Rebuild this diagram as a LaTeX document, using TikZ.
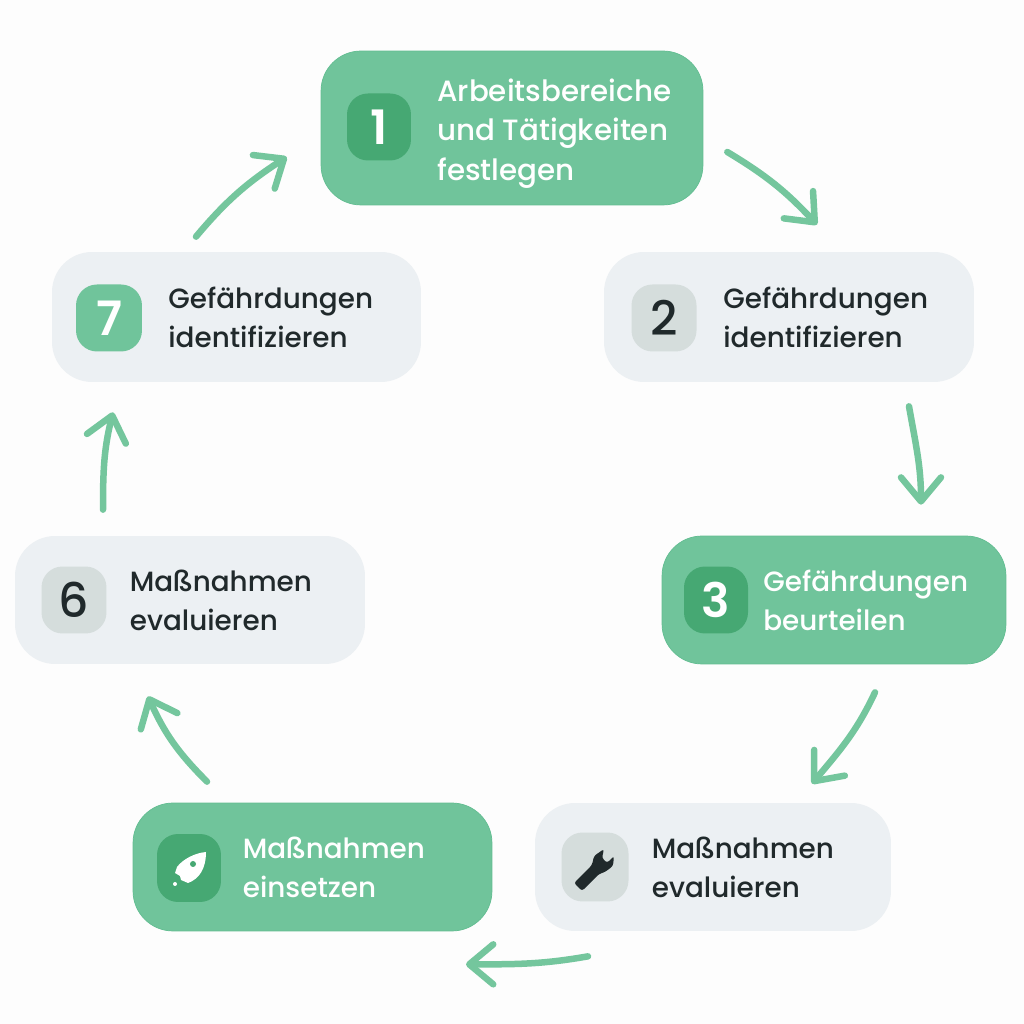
\documentclass[tikz,border=0pt]{standalone}
\usepackage{fontspec}
\setmainfont{Poppins Medium}[BoldFont={Poppins SemiBold}]
\usetikzlibrary{arrows.meta}
\definecolor{boxgreen}{HTML}{70C49B}
\definecolor{boxline}{HTML}{62BD91}
\definecolor{icongreen}{HTML}{46A873}
\definecolor{boxlight}{HTML}{ECF0F3}
\definecolor{iconlight}{HTML}{D5DDDC}
\definecolor{inkdark}{HTML}{20292B}
\definecolor{flowgreen}{HTML}{74C69D}
\definecolor{paper}{HTML}{FDFDFD}
\begin{document}
\begin{tikzpicture}[x=0.02cm,y=0.02cm,
	boxg/.style={rectangle,rounded corners=0.8cm,fill=boxgreen,draw=boxline,line width=0.4pt,inner sep=0pt},
	boxl/.style={rectangle,rounded corners=0.8cm,fill=boxlight,inner sep=0pt},
	icong/.style={rectangle,rounded corners=0.42cm,fill=icongreen,inner sep=0pt,minimum width=1.28cm,minimum height=1.34cm,text=white,font=\fontsize{27}{27}\selectfont\bfseries},
	iconl/.style={rectangle,rounded corners=0.42cm,fill=iconlight,inner sep=0pt,minimum width=1.3cm,minimum height=1.34cm,text=inkdark,font=\fontsize{27}{27}\selectfont},
	txt/.style={anchor=west,align=left,inner sep=0pt,font=\fontsize{15.85}{22.1}\selectfont},
	flow/.style={draw=flowgreen,line width=0.13cm,line cap=round,-{Straight Barb[length=0.48cm,width=0.8cm,round]}}]
	\useasboundingbox[fill=paper] (0,0) rectangle (1024,1024);
	% boxes
	\node[boxg,minimum width=7.64cm,minimum height=3.08cm] (box1) at (512,896) {};
	\node[boxl,minimum width=7.4cm,minimum height=2.6cm] (box2) at (789,707) {};
	\node[boxg,minimum width=6.88cm,minimum height=2.56cm] (box3) at (834,424) {};
	\node[boxl,minimum width=7.12cm,minimum height=2.56cm] (box4) at (713,157) {};
	\node[boxg,minimum width=7.18cm,minimum height=2.56cm] (box5) at (312.5,157) {};
	\node[boxl,minimum width=7cm,minimum height=2.56cm] (box6) at (190,424) {};
	\node[boxl,minimum width=7.38cm,minimum height=2.6cm] (box7) at (236.5,707) {};
	% icons
	\node[icong] (icon1) at (379,897) {1};
	\node[iconl] (icon2) at (664,706) {2};
	\node[icong] (icon3) at (716,424) {3};
	\node[iconl,minimum width=1.34cm,minimum height=1.38cm] (icon4) at (595,157) {};
	\node[icong,minimum height=1.36cm] (icon5) at (189,156) {};
	\node[iconl] (icon6) at (74,424) {6};
	\node[icong,fill=boxgreen,minimum width=1.32cm] (icon7) at (109,706) {7};
	% wrench
	\fill[inkdark,rounded corners=1.5pt] (604,175) -- (602,166) -- (607,161) -- (614,168) -- (613,158) -- (605,152) -- (599,150) -- (582,133) -- (574,141) -- (592,159) -- (594,168) -- cycle;
	% rocket
	\fill[white] (206,172) .. controls (195,171) and (183,165) .. (177,157) -- (175,151) -- (180,148) -- (181,144) -- (188,141) .. controls (199,145) and (206,155) .. (206,172) -- cycle;
	\fill[icongreen] (193,160) circle (3);
	\fill[white] (175,140) circle (2);
	% texts
	\node[txt,text=white,font=\fontsize{16.7}{22.4}\selectfont] (txt1) at (437,890.5) {Arbeitsbereiche\\und Tätigkeiten\\festlegen};
	\node[txt,text=inkdark] (txt2) at (723,707) {Gefährdungen\\identifizieren};
	\node[txt,text=white] (txt3) at (763,424) {Gefährdungen\\beurteilen};
	\node[txt,text=inkdark] (txt4) at (651.5,157) {Maßnahmen\\evaluieren};
	\node[txt,text=white] (txt5) at (242.5,157) {Maßnahmen\\einsetzen};
	\node[txt,text=inkdark] (txt6) at (129.5,424) {Maßnahmen\\evaluieren};
	\node[txt,text=inkdark] (txt7) at (168,707) {Gefährdungen\\identifizieren};
	% arrows
	\draw[flow] ([shift={(24,-24)}]box1.east) to[out=-31,in=133] ([shift={(28,27)}]box2.north);
	\draw[flow] ([shift={(120,-24)}]box2.south) to[out=-80,in=90] ([shift={(87,31)}]box3.north);
	\draw[flow] ([shift={(41,-28)}]box3.south) to[out=-115,in=50] ([shift={(99,19)}]box4.north);
	\draw[flow] ([shift={(-125,-25)}]box4.south) to[out=190,in=0] ([shift={(153.5,-33)}]box5.south);
	\draw[flow] ([shift={(-105.5,21)}]box5.north) to[out=135,in=-66] ([shift={(-42,-32)}]box6.south);
	\draw[flow] ([shift={(-87,26)}]box6.north) to[out=90,in=256] ([shift={(-123.5,-30)}]box7.south);
	\draw[flow] ([shift={(-40.5,15)}]box7.north) to[out=50,in=213] ([shift={(-34,-29)}]box1.west);
\end{tikzpicture}
\end{document}
